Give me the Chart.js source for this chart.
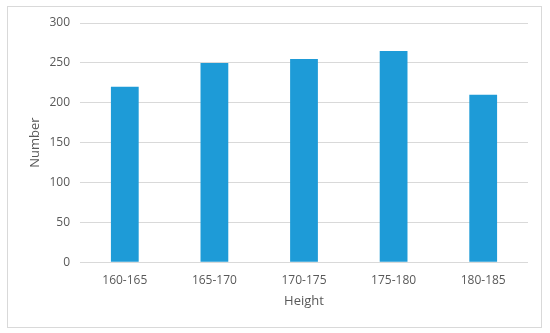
<!DOCTYPE html>
<html>
<head>
<meta charset="utf-8">
<script src="https://cdn.jsdelivr.net/npm/chart.js@4/dist/chart.umd.min.js"></script>
<style>
html,body{margin:0;padding:0;background:#fff;}
#wrap{width:550px;height:333px;position:relative;}
</style>
</head>
<body>
<div id="wrap"><canvas id="c" width="550" height="333"></canvas></div>
<script>
const categories = ["160-165", "165-170", "170-175", "175-180", "180-185"];
const numbers = [220, 250, 255, 265, 210];
const yTicks = [0, 50, 100, 150, 200, 250, 300];

const frame = {
  id: 'frame',
  beforeDraw(chart) {
    const ctx = chart.ctx;
    ctx.save();
    ctx.fillStyle = '#ffffff';
    ctx.fillRect(0, 0, chart.width, chart.height);
    ctx.strokeStyle = '#d9d9d9';
    ctx.lineWidth = 1;
    ctx.strokeRect(7.5, 6.5, 534, 321);
    ctx.restore();
  }
};

new Chart(document.getElementById('c'), {
  type: 'bar',
  data: {
    labels: categories,
    datasets: [{
      label: 'Number',
      data: numbers,
      backgroundColor: '#1e9bd7',
      borderWidth: 0,
      barPercentage: 0.31,
      categoryPercentage: 1.0
    }]
  },
  plugins: [frame],
  options: {
    responsive: false,
    animation: false,
    devicePixelRatio: 1,
    layout: { padding: { left: 27, right: 22, top: 23, bottom: 24 } },
    plugins: { legend: { display: false }, tooltip: { enabled: false } },
    scales: {
      x: {
        grid: { display: false, drawTicks: false },
        border: { display: false },
        ticks: { color: '#595959', font: { family: 'Open Sans', size: 12 }, padding: 11, maxRotation: 0 },
        title: { display: true, text: 'Height', color: '#595959', font: { family: 'Open Sans', size: 13 }, padding: 0 },
        afterFit(scale) { scale.height = 333 - 24 - 262.3; }
      },
      y: {
        min: 0, max: 300,
        afterBuildTicks(scale) { scale.ticks = yTicks.map(v => ({ value: v })); },
        grid: { color: '#d9d9d9', drawTicks: false, lineWidth: 1 },
        border: { display: false },
        ticks: { color: '#595959', font: { family: 'Open Sans', size: 12 }, padding: 10 },
        title: { display: true, text: 'Number', color: '#595959', font: { family: 'Open Sans', size: 13 }, padding: 0 },
        afterFit(scale) { scale.width = 80 - 27; }
      }
    }
  }
});
</script>
</body>
</html>
